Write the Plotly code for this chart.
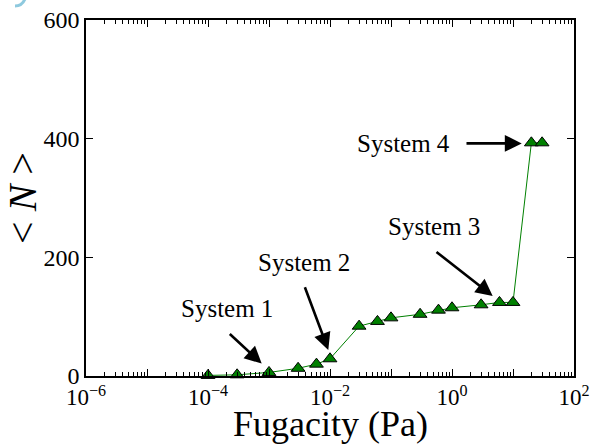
import numpy as np
import plotly.graph_objects as go

# Mean adsorbed number <N> versus fugacity
fugacity = [1e-4, 3e-4, 1e-3, 3e-3, 6e-3, 1e-2, 3e-2, 6e-2, 1e-1,
            3e-1, 6e-1, 1.0, 3.0, 6.0, 10.0, 20.0, 30.0]
mean_n = [1, 2, 6, 13, 20, 29, 84, 92, 98,
          104, 111, 115, 120, 124, 124, 393, 393]

# Labelled systems: text position and arrow tail/head (log10 x, y)
sys_labels = ["System 1", "System 2", "System 3", "System 4"]
label_pos = [(-3.69, 114), (-2.42, 191), (-0.29, 252), (-0.80, 392)]
arrow_tail = [(-3.667, 73), (-2.421, 152), (-0.279, 211), (0.213, 392)]
arrow_head = [(-3.12, 21), (-2.028, 44), (0.667, 135), (1.143, 392)]

SERIF = "Liberation Serif"

fig = go.Figure()
fig.add_trace(go.Scatter(
    x=fugacity, y=mean_n, mode="lines+markers",
    line=dict(color="#008000", width=1),
    marker=dict(symbol="triangle-up", size=12, color="#008000",
                line=dict(color="black", width=1)),
    showlegend=False, cliponaxis=False,
))

for name, (tx, ty), (ax_, ay_), (hx, hy) in zip(sys_labels, label_pos, arrow_tail, arrow_head):
    fig.add_annotation(x=tx, y=ty, xref="x", yref="y", text=name, showarrow=False,
                       font=dict(family=SERIF, size=25, color="black"))
    fig.add_annotation(x=hx, y=hy, ax=ax_, ay=ay_, xref="x", yref="y",
                       axref="x", ayref="y", text="", showarrow=True,
                       arrowhead=2, arrowsize=1.3, arrowwidth=2.6, arrowcolor="black",
                       standoff=0, startstandoff=0)

# decade ticks, labelled every second decade
decades = list(range(-6, 3))
xtickvals = [10.0 ** d for d in decades]
xticktext = []
for d in decades:
    if d % 2 != 0:
        xticktext.append("")
    elif d < 0:
        xticktext.append(f"10<sup>\u2212{-d}</sup>")
    else:
        xticktext.append(f"10<sup>{d}</sup>")
minor_vals = [m * 10.0 ** d for d in decades[:-1] for m in range(2, 10)]

fig.update_xaxes(
    type="log", range=[-6, 2], tickvals=xtickvals, ticktext=xticktext,
    ticks="inside", ticklen=7, tickwidth=1, tickcolor="black",
    minor=dict(tickvals=minor_vals, ticks="inside", ticklen=4, tickwidth=1,
               tickcolor="black", showgrid=False),
    showline=True, linecolor="black", linewidth=1.5, mirror="ticks",
    showgrid=False, zeroline=False, automargin=False,
    tickfont=dict(family=SERIF, size=23, color="black"),
)
fig.update_yaxes(
    range=[0, 600], tickvals=[0, 200, 400, 600],
    ticks="inside", ticklen=7, tickwidth=1, tickcolor="black",
    showline=True, linecolor="black", linewidth=1.5, mirror="ticks",
    showgrid=False, zeroline=False, automargin=False,
    tickfont=dict(family=SERIF, size=24, color="black"),
    title=dict(text="&lt; <i>N</i> &gt;", font=dict(family=SERIF, size=40, color="black"),
               standoff=12),
)

pw, ph = 488.0, 356.0
def px(x):
    return (x - 86) / pw
def py(y):
    return (376 - y) / ph

# x-axis title placed below the tick labels
fig.add_annotation(x=0.5, y=py(424), xref="paper", yref="paper",
                   text="Fugacity (Pa)", showarrow=False, xanchor="center", yanchor="middle",
                   font=dict(family=SERIF, size=36, color="black"))

# fragment of a light-blue label at the top-left corner
fig.add_shape(type="path", xref="paper", yref="paper",
              path=f"M {px(15)},{py(6)} Q {px(22)},{py(6)} {px(25)},{py(-1)}",
              line=dict(color="#8ec9de", width=3))

fig.update_layout(
    width=591, height=445,
    margin=dict(l=86, r=17, t=20, b=69),
    paper_bgcolor="white", plot_bgcolor="white",
    font=dict(family=SERIF, color="black"),
)

fig.write_html("out.html")
